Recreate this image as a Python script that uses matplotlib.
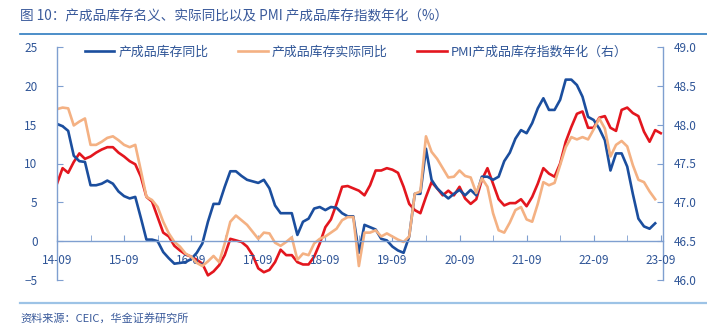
import numpy as np
import matplotlib
matplotlib.use('Agg')
from matplotlib import pyplot as plt
from matplotlib.lines import Line2D

plt.rcParams['font.family'] = ['Noto Sans CJK SC', 'DejaVu Sans']

#  monthly, 2014-09 .. 2023-08 (PMI to 2023-09)
nominal_yoy = [15.1, 14.8, 14.2, 11.0, 10.3, 10.2, 7.2, 7.2, 7.4, 7.8, 7.4, 6.4,
               5.8, 5.5, 5.7, 3.0, 0.2, 0.2, 0.0, -1.4, -2.2, -2.9, -2.8, -2.7,
               -2.3, -1.5, -0.3, 2.5, 4.8, 4.8, 7.0, 9.0, 9.0, 8.4, 7.9, 7.7,
               7.5, 7.9, 6.8, 4.6, 3.6, 3.6, 3.6, 0.8, 2.5, 2.9, 4.2, 4.4,
               4.0, 4.4, 4.3, 3.6, 3.2, 3.2, -1.5, 2.1, 1.8, 1.5, 0.3, 0.1,
               -0.7, -1.2, -1.5, 0.6, 6.1, 6.1, 11.9, 7.9, 6.8, 6.1, 5.5, 6.1,
               6.6, 5.9, 6.6, 5.9, 8.3, 8.3, 7.9, 8.3, 10.3, 11.4, 13.2, 14.3,
               13.9, 15.2, 17.1, 18.4, 16.9, 16.9, 18.2, 20.8, 20.8, 20.1, 18.6, 16.0,
               15.6, 14.5, 13.0, 9.1, 11.3, 11.3, 9.6, 6.1, 2.9, 1.9, 1.6, 2.3]

real_yoy = [17.0, 17.2, 17.1, 14.9, 15.4, 15.8, 12.4, 12.4, 12.8, 13.3, 13.5, 13.0,
            12.4, 12.1, 12.4, 9.1, 5.7, 5.3, 4.4, 2.5, 1.0, -0.1, -0.7, -1.6,
            -2.0, -2.8, -3.2, -2.6, -1.9, -2.7, -0.3, 2.5, 3.3, 2.7, 2.1, 1.2,
            0.3, 1.1, 1.0, -0.2, -0.6, -0.1, 0.5, -2.4, -1.6, -1.8, -0.3, 0.3,
            0.6, 1.1, 1.6, 2.7, 3.1, 3.1, -3.2, 1.1, 1.1, 1.4, 0.6, 1.0,
            0.6, 0.2, -0.1, 0.6, 6.1, 6.4, 13.5, 11.5, 10.6, 9.4, 8.2, 8.3,
            9.1, 8.4, 8.2, 6.2, 8.1, 7.0, 3.6, 1.4, 1.1, 2.4, 4.0, 4.4,
            2.8, 2.5, 4.8, 7.6, 7.2, 7.5, 9.8, 12.1, 13.4, 13.1, 13.4, 13.1,
            14.4, 15.8, 14.5, 10.9, 12.4, 12.9, 12.2, 9.8, 7.9, 7.6, 6.4, 5.4]

pmi_annual = [47.24, 47.44, 47.38, 47.52, 47.63, 47.56, 47.59, 47.64, 47.68, 47.71, 47.71, 47.64,
              47.59, 47.53, 47.49, 47.33, 47.07, 47.01, 46.81, 46.61, 46.56, 46.44, 46.38, 46.33,
              46.30, 46.26, 46.21, 46.06, 46.11, 46.19, 46.32, 46.53, 46.51, 46.49, 46.43, 46.32,
              46.15, 46.10, 46.13, 46.23, 46.39, 46.32, 46.32, 46.23, 46.20, 46.20, 46.30, 46.47,
              46.68, 46.78, 46.98, 47.20, 47.21, 47.18, 47.15, 47.09, 47.22, 47.41, 47.41, 47.44,
              47.42, 47.38, 47.20, 46.98, 46.90, 46.86, 47.07, 47.26, 47.18, 47.09, 47.15, 47.09,
              47.20, 47.05, 46.98, 47.04, 47.29, 47.44, 47.24, 47.04, 46.96, 46.99, 46.99, 47.04,
              46.95, 47.07, 47.24, 47.44, 47.37, 47.33, 47.50, 47.78, 47.97, 48.14, 48.17, 47.96,
              47.96, 48.09, 48.11, 47.96, 47.92, 48.19, 48.22, 48.15, 48.11, 47.91, 47.78, 47.93,
              47.89]

x_labels = ['14-09', '15-09', '16-09', '17-09', '18-09', '19-09', '20-09', '21-09', '22-09', '23-09']

c_blue = '#1B4E9E'
c_orange = '#F4B183'
c_red = '#E3161E'
c_text = '#2F5597'
c_axis = '#7F9FD0'

fig = plt.figure(figsize=(7.07, 3.28), dpi=100)
ax = fig.add_axes([57 / 707, 48 / 328, 606 / 707, 233 / 328])
ax2 = ax.twinx()

months = np.arange(len(nominal_yoy))
l1, = ax.plot(months, nominal_yoy, color=c_blue, lw=1.9, label='产成品库存同比')
l2, = ax.plot(months, real_yoy, color=c_orange, lw=1.9, label='产成品库存实际同比')
l3, = ax2.plot(np.arange(len(pmi_annual)), pmi_annual, color=c_red, lw=1.9,
               label='PMI产成品库存指数年化（右）')
ax.set_zorder(ax2.get_zorder() + 1)
ax.patch.set_visible(False)

ax.set_xlim(0, 108.4)
ax.set_ylim(-5, 25)
ax2.set_ylim(46, 49)
ax.set_yticks(range(-5, 26, 5))
ax2.set_yticks(np.arange(46, 49.01, 0.5))
ax2.set_yticklabels(['%.1f' % v for v in np.arange(46, 49.01, 0.5)])
ax.set_xticks(range(0, 109, 6), minor=True)
ax.set_xticks(range(0, 109, 12))
ax.set_xticklabels(x_labels)

for a in (ax, ax2):
    for s in a.spines.values():
        s.set_color(c_axis)
        s.set_linewidth(1.0)
    a.spines['top'].set_visible(False)
ax.spines['right'].set_visible(False)
ax2.spines['left'].set_visible(False)
ax2.spines['bottom'].set_visible(False)
ax.spines['bottom'].set_position(('data', 0))

ax.tick_params(axis='y', direction='in', length=4, color=c_axis, labelcolor=c_text,
               labelsize=8.5, pad=14)
ax2.tick_params(axis='y', direction='in', length=4, color=c_axis, labelcolor=c_text,
                labelsize=8.5, pad=8)
ax.tick_params(axis='x', which='both', direction='in', length=4, color=c_axis,
               labelcolor=c_text, labelsize=8.5, pad=9)

fig.legend(handles=[l1, l2, l3], loc='center', bbox_to_anchor=(356 / 707, 1 - 52 / 328),
           ncol=3, frameon=False, fontsize=9.3, labelcolor=c_text,
           handlelength=2.3, handletextpad=0.3, columnspacing=2.3)

fig.text(20 / 707, 1 - 16 / 328, '图 10：产成品库存名义、实际同比以及 PMI 产成品库存指数年化（%）',
         color='#3A5A9B', fontsize=9.8, va='center', ha='left')
fig.add_artist(Line2D([20 / 707, 1], [1 - 34 / 328] * 2, color='#2E7CC0', lw=1.2))
fig.add_artist(Line2D([20 / 707, 1], [1 - 303 / 328] * 2, color='#9DC3E6', lw=1.6))
fig.text(20 / 707, 1 - 318 / 328, '资料来源：CEIC，华金证券研究所', color='#3A5A9B',
         fontsize=8, style='italic', va='center', ha='left')

fig.savefig('out.png', dpi=100)
